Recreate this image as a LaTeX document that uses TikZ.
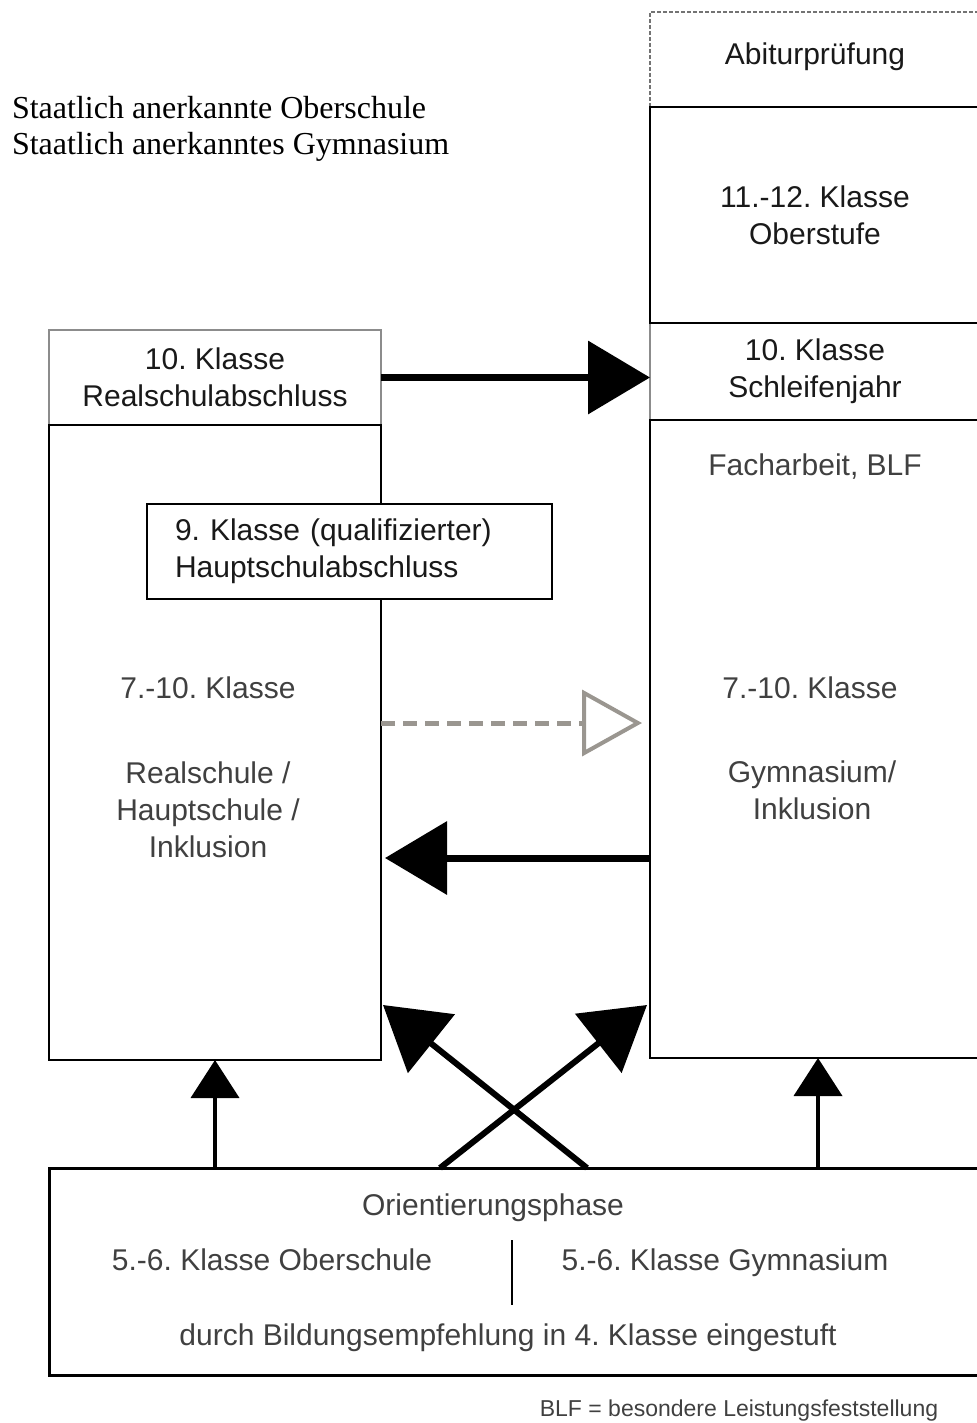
\documentclass[tikz,border=0pt]{standalone}
\usepackage{fontspec}
\setmainfont{Liberation Sans}
\newfontfamily\titlefont{Liberation Serif}
\usetikzlibrary{arrows.meta,positioning}
\frenchspacing

\definecolor{txtgray}{HTML}{404040}
\definecolor{boxgray}{HTML}{8C8C8C}
\definecolor{dashgray}{HTML}{9A9690}

\begin{document}
\begin{tikzpicture}[x=0.5pt, y=-0.5pt,
	every node/.style={inner sep=0pt, outer sep=0pt, align=center,
		font=\fontsize{15}{18.5}\selectfont, text=black!90},
	leftcol/.style={minimum width=166pt},
	rightcol/.style={minimum width=165pt},
	graybox/.style={draw=boxgray, line width=0.6pt},
	blackbox/.style={draw=black, line width=1pt},
	dashbox/.style={draw=black!55, line width=0.6pt, dash pattern=on 2pt off 1pt},
	inner/.style={text=txtgray},
	bigarrow/.style={line width=3.5pt, -{Triangle[length=31pt,width=36pt]}},
	crossarrow/.style={line width=3pt, -{Triangle[length=31pt,width=37pt]}},
	smallarrow/.style={line width=2pt, -{Triangle[length=19pt,width=24pt]}},
	openarrow/.style={draw=dashgray, line width=2.5pt, dash pattern=on 7pt off 4pt,
		-{Triangle[open,length=30pt,width=33pt,line width=2pt]}}]

\clip (0,0) rectangle (977,1423);

\node[anchor=north west, align=left, font=\titlefont\fontsize{16}{18}\selectfont, text=black]
	(titel) at (12,96) {Staatlich anerkannte Oberschule\\Staatlich anerkanntes Gymnasium};

% Oberschule
\node[graybox, leftcol, minimum height=47.5pt] (realab) at (215,377.5) {10. Klasse\\Realschulabschluss};
\node[blackbox, leftcol, minimum height=317.5pt] (realbox) at (215,742.5) {};
\node[blackbox, fill=white, align=left, text width=174.5pt, inner xsep=14pt, minimum height=47.5pt]
	(hauptab) at (349.5,551.5) {9. Klasse (qualifizierter)\\Hauptschulabschluss};
\node[inner] (realkl) at (208,688) {7.-10. Klasse};
\node[inner] (realart) at (208,810) {Realschule /\\Hauptschule /\\Inklusion};

% Gymnasium
\node[dashbox, rightcol, minimum height=47.5pt, text depth=6.2pt] (abitur) at (815,59.5) {Abiturprüfung};
\node[graybox, rightcol, minimum height=48.5pt] (schleife) at (815,371.5) {10. Klasse\\Schleifenjahr};
\node[blackbox, rightcol, minimum height=108pt] (oberstufe) at (815,215) {11.-12. Klasse\\Oberstufe};
\node[blackbox, rightcol, minimum height=319pt] (gymbox) at (815,739) {};
\node[inner] (facharb) at (815,467) {Facharbeit, BLF};
\node[inner] (gymkl) at (810,688) {7.-10. Klasse};
\node[inner] (gymart) at (812,790.5) {Gymnasium/\\Inklusion};

% Orientierungsphase
\node[draw, line width=1.5pt, minimum width=468pt, minimum height=103.5pt] (orient) at (517,1271.5) {};
\node[inner] (ophase) at (493,1208) {Orientierungsphase};
\node[inner, anchor=base] (oslinks) at (272,1270) {5.-6. Klasse Oberschule};
\node[inner, anchor=base] (osrechts) at (725,1270) {5.-6. Klasse Gymnasium};
\node[inner] (empf) at (508,1338) {durch Bildungsempfehlung in 4. Klasse eingestuft};
\draw[line width=0.6pt] (512,1240) -- (512,1305);

\node[inner, font=\fontsize{11.5}{14}\selectfont] (fussnote) at (739,1411) {BLF = besondere Leistungsfeststellung};

% Übergänge
\draw[bigarrow] (realab.east) -- (realab.east -| schleife.west);
\draw[openarrow] ([shift={(0,-19.5)}]realbox.east) -- ([shift={(-8,-16)}]gymbox.west);
\draw[bigarrow] ([shift={(0,119)}]gymbox.west) -- ([shift={(4,115.5)}]realbox.east);
\draw[crossarrow] ([shift={(-77,0)}]orient.north) -- ([shift={(-3,-53)}]gymbox.south west);
\draw[crossarrow] ([shift={(70,0)}]orient.north) -- ([shift={(2,-55)}]realbox.south east);
\draw[smallarrow] (realbox.south |- orient.north) -- (realbox.south);
\draw[smallarrow] ([xshift=1.5pt]gymbox.south |- orient.north) -- ([xshift=1.5pt]gymbox.south);

\end{tikzpicture}
\end{document}
